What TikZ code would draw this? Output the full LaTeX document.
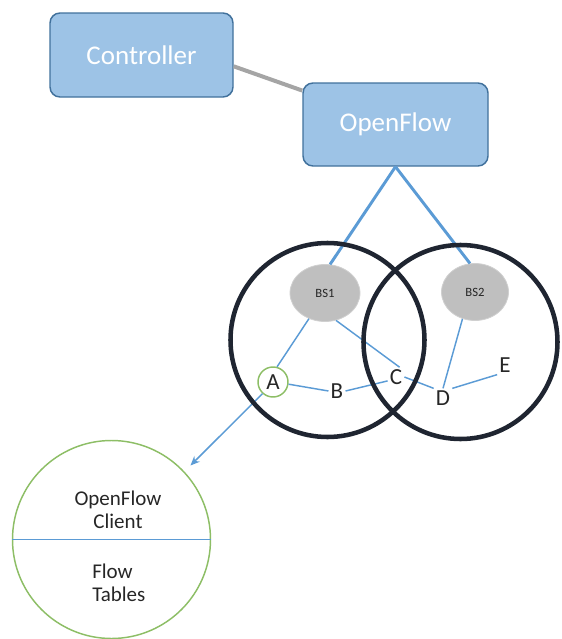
\documentclass[tikz,border=0pt]{standalone}
\usepackage{fontspec}
\setmainfont{Carlito}
\usetikzlibrary{shapes.geometric,arrows.meta}
\definecolor{boxfill}{HTML}{9DC3E6}
\definecolor{boxedge}{HTML}{41719C}
\definecolor{link}{HTML}{5B9BD5}
\definecolor{graylink}{HTML}{A5A5A5}
\definecolor{cellring}{HTML}{1F2531}
\definecolor{bsfill}{HTML}{BFBFBF}
\definecolor{bsedge}{HTML}{D0D0D0}
\definecolor{leaf}{HTML}{8DBE66}
\definecolor{ink}{HTML}{262626}
\begin{document}
\begin{tikzpicture}[x=0.75pt,y=-0.75pt,
  box/.style={draw=boxedge, fill=boxfill, line width=1.1pt, rounded corners=7.5pt,
    text=white, font=\fontsize{20.25}{24}\selectfont, inner sep=0pt},
  bs/.style={ellipse, fill=bsfill, draw=bsedge, line width=0.6pt, inner sep=0pt,
    minimum height=42.75pt, text=ink, font=\fontsize{9.5}{11}\selectfont},
  cell/.style={circle, draw=cellring, line width=3.4pt, minimum size=145.5pt, inner sep=0pt},
  letter/.style={font=\fontsize{17.25}{20}\selectfont, text=ink, inner sep=1.5pt},
  thinlink/.style={draw=link, line width=1.1pt},
  uplink/.style={draw=link, line width=2.2pt},
  cluster/.style={font=\fontsize{15.75}{17.25}\selectfont, text=ink, inner sep=0pt}]
\useasboundingbox (0,0) rectangle (561,639);

% controller and switch
\node[box, minimum width=137.25pt, minimum height=63pt] (ctrl) at (141.5,55) {Controller};
\node[box, minimum width=138.75pt, minimum height=62.25pt] (of) at (395.5,124.5) {OpenFlow};

% base stations
\node[bs, minimum width=52.5pt] (bs1) at (325,293) {BS1};
\node[bs, minimum width=50.25pt] (bs2) at (475,292) {BS2};

% user equipment
\node[circle, draw=leaf, line width=1.1pt, minimum size=22.5pt, inner sep=0pt,
  font=\fontsize{17.25}{20}\selectfont, text=ink] (ua) at (273,382) {A};
\node[letter] (ub) at (337,391) {B};
\node[letter] (uc) at (396,377) {C};
\node[letter] (ud) at (443,398) {D};
\node[letter] (ue) at (505,365) {E};

% client detail
\node[circle, draw=leaf, line width=1.1pt, minimum size=148.5pt, inner sep=0pt] (client) at (111.5,539.5) {};
\node[cluster, align=center] (ofc) at (118,510) {OpenFlow\\Client};
\node[cluster, align=left, anchor=west] (ftab) at (92,583) {Flow\\Tables};
\draw[thinlink] (client.west) -- (client.east);

% links
\draw[draw=graylink, line width=3pt] (ctrl.-7) -- (of.160.6);
\draw[uplink] (of.south) -- (bs1.80);
\draw[uplink] (of.south) -- (bs2.100);
\draw[thinlink] (bs1.238) -- (ua.75);
\draw[thinlink] (ua.-8) -- (ub.west);
\draw[thinlink] (ub.east) -- (uc.205);
\draw[thinlink] (bs1.292) -- (uc.70);
\draw[thinlink] (uc.east) -- (ud.north west);
\draw[thinlink] (bs2.245) -- (ud.north);
\draw[thinlink] (ud.north east) -- (ue.south west);
\draw[thinlink, -{Stealth[length=7pt,width=6pt]}, shorten >=6.4pt] (ua.228) -- (client.43);

% coverage cells
\node[cell] (cell1) at (327.5,340) {};
\node[cell] (cell2) at (460.5,342) {};
\end{tikzpicture}
\end{document}
